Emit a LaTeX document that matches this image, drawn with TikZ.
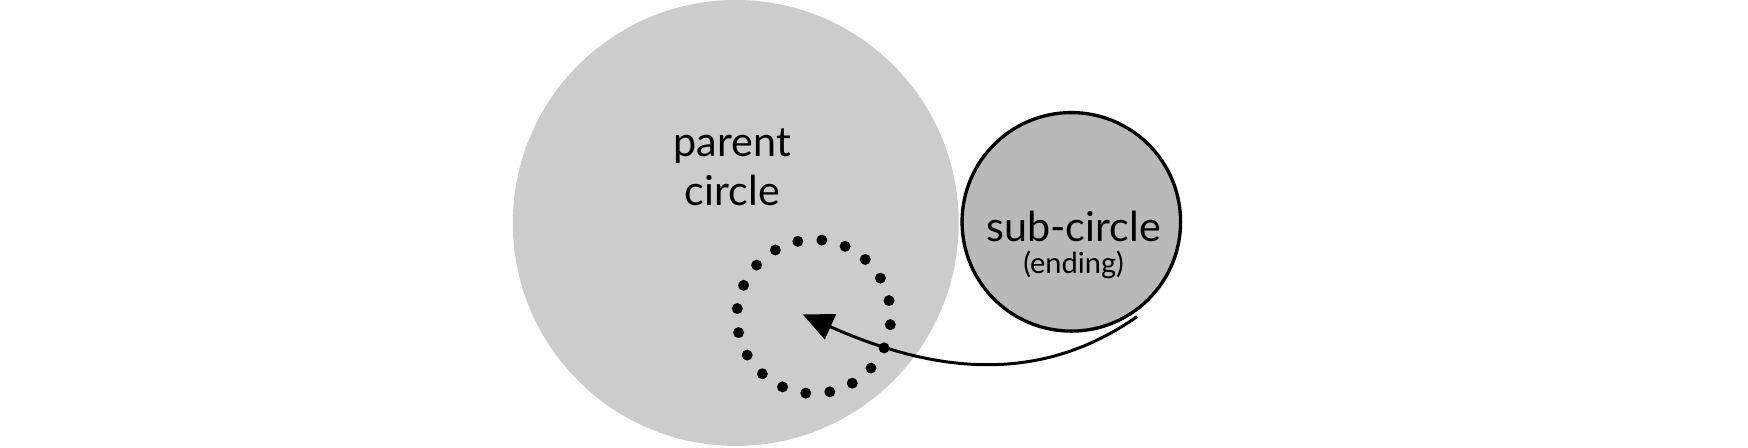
\documentclass[tikz,border=0pt]{standalone}
\usepackage{fontspec}
\setmainfont{Lato}
\usetikzlibrary{arrows.meta}
\begin{document}
\begin{tikzpicture}[x=0.0223cm,y=-0.0223cm,
  lbl/.style={font=\fontsize{23.5}{28}\selectfont, align=center},
  dot/.style={circle, fill=black, inner sep=0pt, minimum size=0.22cm}]
\fill[fill=black!20] (660,200) circle (200);
\node[circle, draw=black, line width=1.9pt, fill={rgb,255:red,184;green,186;blue,184}, minimum size=4.37cm, inner sep=0pt] (sub) at (961,199) {};
\node[lbl] (parent) at (657,150) {parent\\circle};
\node[lbl] (subl) at (963,203) {sub-circle};
\node[font=\fontsize{16.5}{20}\selectfont] (end) at (963,238) {(ending)};
\foreach \i in {0,...,19}
  \node[dot] (d\i) at ({730+69*cos(-84+18*\i)},{284+69*sin(-84+18*\i)}) {};
\coordinate (s) at (1020,284);
\coordinate (t) at (720,282);
\draw[line width=1.7pt, -{Triangle[length=0.61cm,width=0.54cm]}] (s) .. controls (940,340) and (850,340) .. (t);
\pgfresetboundingbox
\path (0,0) rectangle (1568,401);
\end{tikzpicture}
\end{document}
